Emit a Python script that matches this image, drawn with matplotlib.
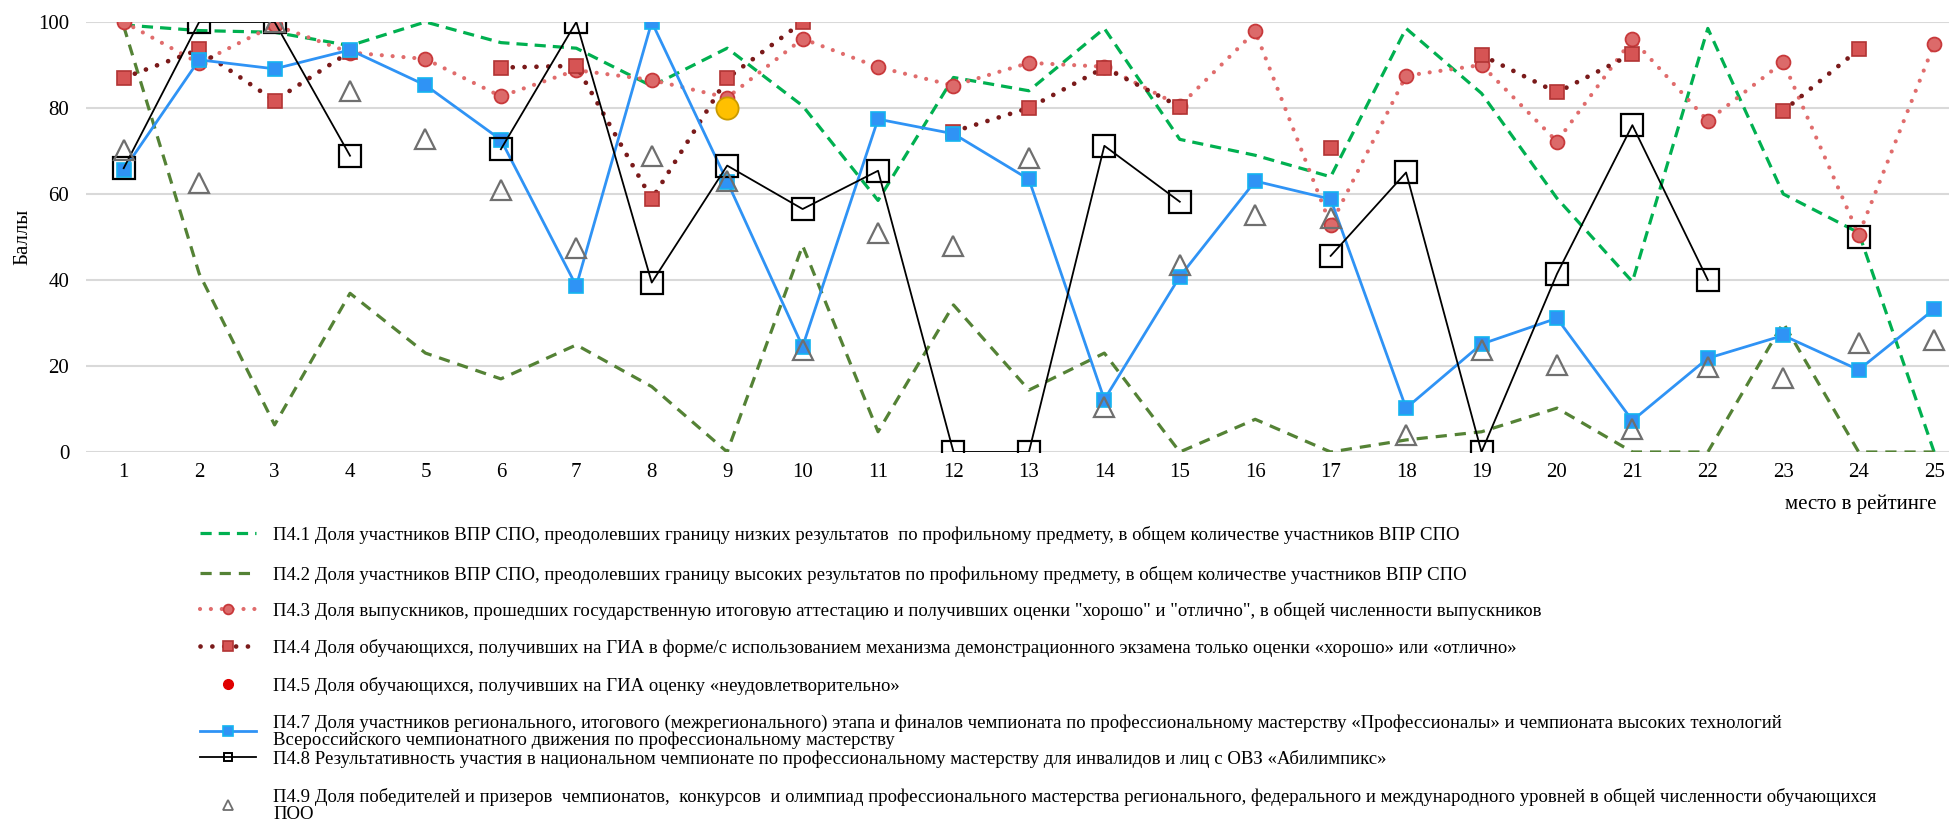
import numpy as np
import matplotlib
matplotlib.use("Agg")
import matplotlib.pyplot as plt
from matplotlib.lines import Line2D

plt.rcParams['font.family'] = ['Liberation Serif', 'DejaVu Serif']

nan = np.nan

# место в рейтинге
places = list(range(1, 26))

# values
p41 = [99.3, 98, 97.6, 94.5, 100, 95.2, 93.9, 85.1, 93.9, 80.5, 58.5, 87.1, 84, 98.5, 72.7,
       69, 64, 98.5, 83.4, 59, 39.6, 98.5, 60, 51, 0]
p42 = [99, 41.5, 6.3, 36.9, 23, 17, 24.9, 15.2, 0, 48, 4.7, 34.2, 14.4, 23, 0,
       7.6, 0, 2.8, 4.7, 10.2, 0, 0, 30, 0, 0]
p43 = [100, 90.4, 99.3, 92.9, 91.4, 82.7, 88.8, 86.5, 82.4, 96.1, 89.5, 85.2, 90.5, 89.6, 80.5,
       97.8, 52.8, 87.5, 90, 72.2, 96, 77, 90.7, 50.5, 94.8]
p44 = [87, 93.6, 81.7, 93.1, nan, 89.4, 89.8, 58.8, 86.9, 100, nan, 74.5, 80, 89.4, 80.3,
       nan, 70.6, nan, 92.3, 83.6, 92.6, nan, 79.3, 93.6, nan]
p45 = [nan, nan, nan, nan, nan, nan, nan, nan, 80, nan, nan, nan, nan, nan, nan,
       nan, nan, nan, nan, nan, nan, nan, nan, nan, nan]
p47 = [65.6, 91.2, 89.1, 93.5, 85.3, 72.6, 38.6, 100, 62.9, 24.5, 77.4, 74, 63.4, 12.2, 40.8,
       63, 58.8, 10.2, 25.1, 31.1, 7.3, 21.8, 27.1, 19.1, 33.2]
p48 = [66, 100, 100, 68.9, nan, 70.4, 100, 39.4, 66.6, 56.5, 65.4, 0, 0, 71.2, 58.2,
       nan, 45.6, 65, 0, 41.4, 76, 40, nan, 50.1, nan]
p49 = [70.2, 62.5, 100, 84, 72.9, 61, 47.4, 68.8, 63, 23.7, 50.9, 47.8, 68.3, 10.5, 43.5,
       55, 54.5, 3.9, 23.8, 20.3, 5.4, 19.8, 17.2, 25.3, 26]

labels = [
    "П4.1 Доля участников ВПР СПО, преодолевших границу низких результатов  по профильному предмету, в общем количестве участников ВПР СПО",
    "П4.2 Доля участников ВПР СПО, преодолевших границу высоких результатов по профильному предмету, в общем количестве участников ВПР СПО",
    'П4.3 Доля выпускников, прошедших государственную итоговую аттестацию и получивших оценки "хорошо" и "отлично", в общей численности выпускников',
    "П4.4 Доля обучающихся, получивших на ГИА в форме/с использованием механизма демонстрационного экзамена только оценки «хорошо» или «отлично»",
    "П4.5 Доля обучающихся, получивших на ГИА оценку «неудовлетворительно»",
    "П4.7 Доля участников регионального, итогового (межрегионального) этапа и финалов чемпионата по профессиональному мастерству «Профессионалы» и чемпионата высоких технологий\nВсероссийского чемпионатного движения по профессиональному мастерству",
    "П4.8 Результативность участия в национальном чемпионате по профессиональному мастерству для инвалидов и лиц с ОВЗ «Абилимпикс»",
    "П4.9 Доля победителей и призеров  чемпионатов,  конкурсов  и олимпиад профессионального мастерства регионального, федерального и международного уровней в общей численности обучающихся\nПОО",
]

W, H = 1959, 826
fig = plt.figure(figsize=(W / 100, H / 100), dpi=100)
ax = fig.add_axes([0.0439, 0.4528, 0.9511, 0.5206])

# series, drawn in the original order
s41 = dict(color='#00B050', lw=2.3, ls=(0, (3.5, 2.2)))
s42 = dict(color='#548235', lw=2.3, ls=(0, (3.5, 2.5)))
s43 = dict(color='#E06C6C', lw=3.0, ls=(0, (0.01, 2.6)), dash_capstyle='round',
           marker='o', ms=10, mfc='#DC6A6A', mec='#C8393B', mew=1.3)
s44 = dict(color='#7A1A1A', lw=3.4, ls=(0, (0.01, 2.5)), dash_capstyle='round',
           marker='s', ms=9.5, mfc='#D65454', mec='#B23434', mew=1.2)
s47 = dict(color='#2F93F5', lw=2.0, marker='s', ms=9.5, mfc='#2F93F5', mec='#14B4F0', mew=1.2)
s48 = dict(color='black', lw=1.3, marker='s', ms=16, mfc='none', mec='black', mew=1.6)
s49 = dict(color='none', ls='none', marker='^', ms=15, mfc='none', mec='#6F6F6F', mew=1.6)

ax.plot(places, p41, **s41)
ax.plot(places, p42, **s42)
ax.plot(places, p43, **s43)
ax.plot(places, p44, **s44)
ax.plot(places, p45, ls='none', marker='o', ms=16, mfc='#FFC000', mec='#C99A00', mew=1.3)
ax.plot(places, p47, **s47)
ax.plot(places, p48, **s48)
ax.plot(places, p49, **s49)

ax.set_xlim(0.5, 25.2)
ax.set_ylim(0, 100)
ax.set_xticks(places)
ax.set_yticks([0, 20, 40, 60, 80, 100])
ax.tick_params(axis='both', length=0, labelsize=15)
ax.tick_params(axis='y', pad=12)
ax.tick_params(axis='x', pad=8)
ax.grid(axis='y', color='#D9D9D9', lw=1.5)
ax.set_axisbelow(True)
for sp in ax.spines.values():
    sp.set_visible(False)

ax.set_ylabel('Баллы', fontsize=15, labelpad=4)
ax.set_xlabel('место в рейтинге', fontsize=15, ha='right')
ax.xaxis.set_label_coords(0.993, -0.1)

# legend proxies with smaller markers
handles = [
    Line2D([], [], **s41),
    Line2D([], [], **s42),
    Line2D([], [], **{**s43, 'ms': 7}),
    Line2D([], [], **{**s44, 'ms': 7}),
    Line2D([], [], ls='none', marker='o', ms=7, color='#E00000'),
    Line2D([], [], **{**s47, 'ms': 7}),
    Line2D([], [], **{**s48, 'ms': 6, 'mew': 1.4}),
    Line2D([], [], **{**s49, 'ms': 7, 'mew': 1.3}),
]
# first-line centres of the legend rows, in pixels from the top
row_y = [535, 575, 611, 648, 686, 722, 759, 796]
for h, lab, y in zip(handles, labels, row_y):
    two_lines = '\n' in lab
    yc = y + 9.5 if two_lines else y
    leg = fig.legend([h], [lab], loc='center left', bbox_to_anchor=(200 / W, 1 - yc / H),
                     frameon=False, fontsize=13.5, borderpad=0, borderaxespad=0,
                     handlelength=3.0, handletextpad=0.9, numpoints=1)
    for t in leg.get_texts():
        t.set_linespacing(0.95)

fig.savefig('out.png', dpi=100)
